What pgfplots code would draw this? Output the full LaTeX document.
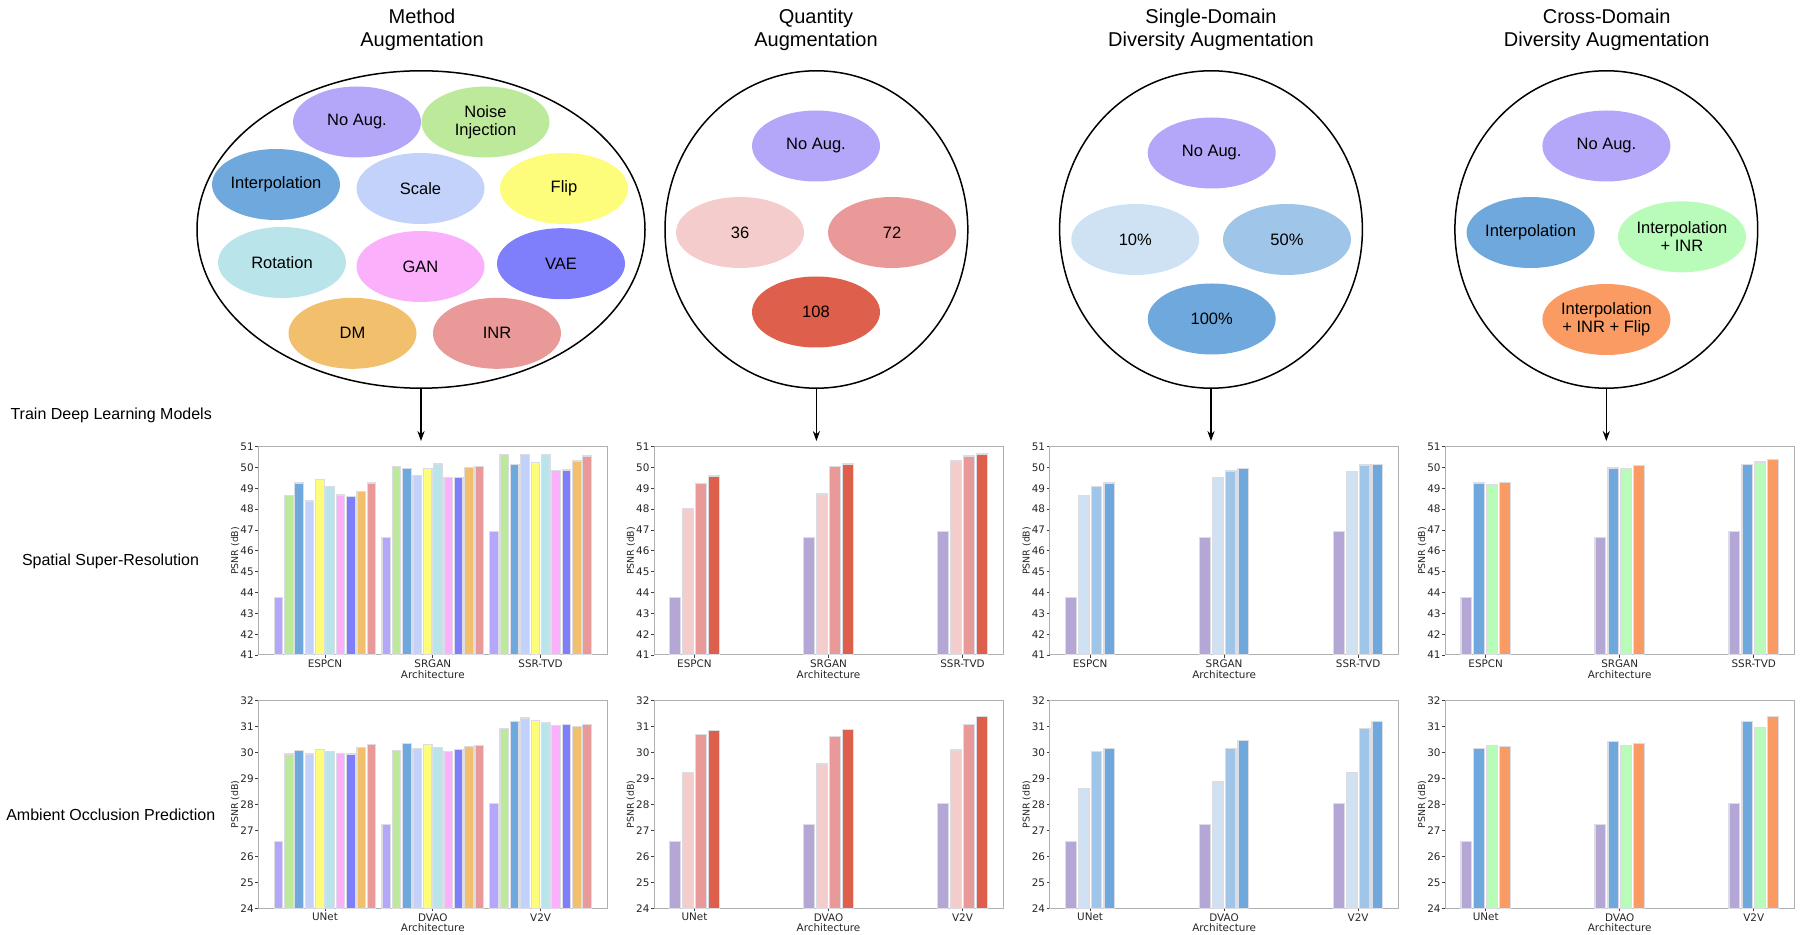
\documentclass[border=0pt]{standalone}
\usepackage{pgfplots}
\pgfplotsset{compat=1.18}
\usepackage{pgfplotstable}
\usepackage{fontspec}
\setmainfont{Liberation Sans}
\newfontfamily\dejavu{DejaVu Sans}
\usetikzlibrary{arrows.meta}

% augmentation colours
\definecolor{cNo}{HTML}{B4A7F9}
\definecolor{cNoB}{HTML}{B4A7D6}
\definecolor{cNoise}{HTML}{BDE99A}
\definecolor{cInterp}{HTML}{6FA8DC}
\definecolor{cScale}{HTML}{C2D2FA}
\definecolor{cFlip}{HTML}{FEFD7B}
\definecolor{cRot}{HTML}{B9E4E9}
\definecolor{cGAN}{HTML}{FBB0FB}
\definecolor{cVAE}{HTML}{807FFB}
\definecolor{cDM}{HTML}{F2BF6C}
\definecolor{cINR}{HTML}{EA9999}
\definecolor{cQ36}{HTML}{F4CCCC}
\definecolor{cQ72}{HTML}{EA9999}
\definecolor{cQ108}{HTML}{DE5F4B}
\definecolor{cS10}{HTML}{CFE2F3}
\definecolor{cS50}{HTML}{9FC5E8}
\definecolor{cS100}{HTML}{6FA8DC}
\definecolor{cIINR}{HTML}{B9FBB9}
\definecolor{cIIF}{HTML}{F99B63}
\definecolor{edge}{HTML}{DCDCE4}
\definecolor{frame}{HTML}{B0B0B0}

\pgfplotsset{
  psnr/.style={
    scale only axis, width=174.5pt,
    axis line style={draw=frame, line width=0.5pt},
    tick pos=left, tick align=outside, major tick length=1.5pt,
    tick style={draw=black!75, line width=0.4pt},
    xtick={0,1,2}, ytick distance=1,
    tick label style={font=\dejavu\fontsize{5.2}{6}\selectfont, text=black!85},
    /pgf/number format/assume math mode=true,
    yticklabel style={inner sep=0.6pt},
    xticklabel style={inner sep=0.8pt},
    xlabel={Architecture}, ylabel={PSNR (dB)},
    label style={font=\dejavu\fontsize{5.2}{6}\selectfont, text=black!85},
    ylabel style={at={(axis description cs:-0.066,0.5)}, anchor=center,
      font=\dejavu\fontsize{4.7}{5}\selectfont},
    xlabel style={at={(axis description cs:0.5,-0.094)}, anchor=center},
  },
  bars/.style={ybar, bar width=0.08, draw=edge, line width=0.6pt, fill=#1},
  rowA/.style={height=104.15pt, ymin=41, ymax=51, xticklabels={ESPCN,SRGAN,SSR-TVD}},
  rowB/.style={height=103.8pt, ymin=24, ymax=32, xticklabels={UNet,DVAO,V2V}},
  ten/.style={xmin=-0.619, xmax=2.619},
  four/.style={xmin=-0.302, xmax=2.302},
}

% method augmentation: a=no aug, b=noise, c=interp, d=scale, e=flip,
% f=rotation, g=GAN, h=VAE, i=DM, j=INR
\pgfplotstableread{
x a b c d e f g h i j
0 43.75 48.65 49.26 48.39 49.43 49.08 48.68 48.60 48.84 49.26
1 46.63 50.04 49.96 49.61 49.96 50.17 49.51 49.51 49.99 50.06
2 46.92 50.63 50.15 50.62 50.23 50.62 49.86 49.88 50.31 50.55
}\mSR
\pgfplotstableread{
x a b c d e f g h i j
0 26.57 29.95 30.09 29.95 30.13 30.04 29.98 29.95 30.21 30.32
1 27.22 30.08 30.35 30.16 30.30 30.20 30.04 30.12 30.23 30.27
2 28.04 30.93 31.20 31.33 31.23 31.14 31.04 31.09 31.01 31.09
}\mAO
% quantity: a=no aug, b=36, c=72, d=108
\pgfplotstableread{
x a b c d
0 43.75 48.04 49.24 49.59
1 46.63 48.73 50.04 50.17
2 46.92 50.31 50.55 50.65
}\qSR
\pgfplotstableread{
x a b c d
0 26.57 29.24 30.70 30.86
1 27.22 29.56 30.61 30.90
2 28.04 30.10 31.08 31.40
}\qAO
% single-domain: a=no aug, b=10%, c=50%, d=100%
\pgfplotstableread{
x a b c d
0 43.75 48.66 49.08 49.26
1 46.63 49.53 49.83 49.96
2 46.92 49.82 50.12 50.14
}\sSR
\pgfplotstableread{
x a b c d
0 26.57 28.60 30.04 30.16
1 27.22 28.87 30.15 30.46
2 28.04 29.24 30.93 31.19
}\sAO
% cross-domain: a=no aug, b=interp, c=interp+INR, d=interp+INR+flip
\pgfplotstableread{
x a b c d
0 43.75 49.26 49.18 49.27
1 46.63 49.98 49.96 50.10
2 46.92 50.15 50.27 50.38
}\cSR
\pgfplotstableread{
x a b c d
0 26.57 30.15 30.27 30.22
1 27.22 30.44 30.26 30.34
2 28.04 31.19 30.96 31.40
}\cAO

\begin{document}
\begin{tikzpicture}
\path[use as bounding box] (0,0) rectangle (900.5pt,-467.5pt);

\begin{scope}[x=0.5pt, y=-0.5pt]
  % column titles
  \begin{scope}[every node/.style={align=center, font=\fontsize{10}{11.7}\selectfont}]
    \node at (422,30) {Method\\Augmentation};
    \node at (816,30) {Quantity\\Augmentation};
    \node at (1211,30) {Single-Domain\\Diversity Augmentation};
    \node at (1606.7,30) {Cross-Domain\\Diversity Augmentation};
  \end{scope}
  % row labels
  \begin{scope}[every node/.style={font=\fontsize{8}{9}\selectfont}]
    \node at (111.2,415.8) {Train Deep Learning Models};
    \node at (110.5,561.5) {Spatial Super-Resolution};
    \node at (110.8,815) {Ambient Occlusion Prediction};
  \end{scope}
  % outer ellipses and arrows
  \draw[line width=0.75pt] (421,229.5) ellipse [x radius=112pt, y radius=79.35pt];
  \draw[line width=0.75pt] (816.4,229.5) ellipse [x radius=75.7pt, y radius=79.35pt];
  \draw[line width=0.75pt] (1211,229.5) ellipse [x radius=75.7pt, y radius=79.35pt];
  \draw[line width=0.75pt] (1606.3,229.5) ellipse [x radius=75.7pt, y radius=79.35pt];
  \foreach \cx in {421,816.4,1211,1606.3}
    \draw[line width=0.55pt, -{Stealth[length=5pt,width=3.6pt]}] (\cx,388) -- (\cx,441);
  % inner ellipses
  \begin{scope}[every node/.style={align=center, font=\fontsize{8.25}{9}\selectfont}]
    \def\bub#1#2#3#4{\fill[#3] (#1,#2) ellipse [x radius=32pt, y radius=17.75pt];
      \node at (#1,#2) {#4};}
    \bub{357}{122}{cNo}{No Aug.}
    \bub{485.5}{122}{cNoise}{Noise\\Injection}
    \bub{276}{184.5}{cInterp}{Interpolation}
    \bub{420.5}{188.5}{cScale}{Scale}
    \bub{564}{188.5}{cFlip}{Flip}
    \bub{282}{262.5}{cRot}{Rotation}
    \bub{420.5}{266.5}{cGAN}{GAN}
    \bub{561}{263.7}{cVAE}{VAE}
    \bub{352.5}{333.3}{cDM}{DM}
    \bub{497}{333.3}{cINR}{INR}
    \bub{816}{146}{cNo}{No Aug.}
    \bub{740}{232.5}{cQ36}{36}
    \bub{892}{232.5}{cQ72}{72}
    \bub{816}{312}{cQ108}{108}
    \bub{1211.7}{153}{cNo}{No Aug.}
    \bub{1135.3}{239.5}{cS10}{10\%}
    \bub{1287}{239.5}{cS50}{50\%}
    \bub{1211.7}{319}{cS100}{100\%}
    \bub{1606.4}{146}{cNo}{No Aug.}
    \bub{1530.6}{232.5}{cInterp}{Interpolation}
    \bub{1682}{236.8}{cIINR}{Interpolation\\+ INR}
    \bub{1606.4}{319.5}{cIIF}{Interpolation\\+ INR + Flip}
  \end{scope}
\end{scope}

% ---- method augmentation ----
\begin{axis}[psnr, rowA, ten, at={(129.15pt,-327.5pt)}, anchor=south west]
\addplot[bars=cNo, bar shift=-0.432] table[x=x,y=a]{\mSR};
\addplot[bars=cNoise, bar shift=-0.336] table[x=x,y=b]{\mSR};
\addplot[bars=cInterp, bar shift=-0.240] table[x=x,y=c]{\mSR};
\addplot[bars=cScale, bar shift=-0.144] table[x=x,y=d]{\mSR};
\addplot[bars=cFlip, bar shift=-0.048] table[x=x,y=e]{\mSR};
\addplot[bars=cRot, bar shift=0.048] table[x=x,y=f]{\mSR};
\addplot[bars=cGAN, bar shift=0.144] table[x=x,y=g]{\mSR};
\addplot[bars=cVAE, bar shift=0.240] table[x=x,y=h]{\mSR};
\addplot[bars=cDM, bar shift=0.336] table[x=x,y=i]{\mSR};
\addplot[bars=cINR, bar shift=0.432] table[x=x,y=j]{\mSR};
\end{axis}
\begin{axis}[psnr, rowB, ten, at={(129.15pt,-454.15pt)}, anchor=south west]
\addplot[bars=cNo, bar shift=-0.432] table[x=x,y=a]{\mAO};
\addplot[bars=cNoise, bar shift=-0.336] table[x=x,y=b]{\mAO};
\addplot[bars=cInterp, bar shift=-0.240] table[x=x,y=c]{\mAO};
\addplot[bars=cScale, bar shift=-0.144] table[x=x,y=d]{\mAO};
\addplot[bars=cFlip, bar shift=-0.048] table[x=x,y=e]{\mAO};
\addplot[bars=cRot, bar shift=0.048] table[x=x,y=f]{\mAO};
\addplot[bars=cGAN, bar shift=0.144] table[x=x,y=g]{\mAO};
\addplot[bars=cVAE, bar shift=0.240] table[x=x,y=h]{\mAO};
\addplot[bars=cDM, bar shift=0.336] table[x=x,y=i]{\mAO};
\addplot[bars=cINR, bar shift=0.432] table[x=x,y=j]{\mAO};
\end{axis}

% ---- quantity augmentation ----
\begin{axis}[psnr, rowA, four, at={(327pt,-327.5pt)}, anchor=south west]
\addplot[bars=cNoB, bar shift=-0.144] table[x=x,y=a]{\qSR};
\addplot[bars=cQ36, bar shift=-0.048] table[x=x,y=b]{\qSR};
\addplot[bars=cQ72, bar shift=0.048] table[x=x,y=c]{\qSR};
\addplot[bars=cQ108, bar shift=0.144] table[x=x,y=d]{\qSR};
\end{axis}
\begin{axis}[psnr, rowB, four, at={(327pt,-454.15pt)}, anchor=south west]
\addplot[bars=cNoB, bar shift=-0.144] table[x=x,y=a]{\qAO};
\addplot[bars=cQ36, bar shift=-0.048] table[x=x,y=b]{\qAO};
\addplot[bars=cQ72, bar shift=0.048] table[x=x,y=c]{\qAO};
\addplot[bars=cQ108, bar shift=0.144] table[x=x,y=d]{\qAO};
\end{axis}

% ---- single-domain diversity ----
\begin{axis}[psnr, rowA, four, at={(524.8pt,-327.5pt)}, anchor=south west]
\addplot[bars=cNoB, bar shift=-0.144] table[x=x,y=a]{\sSR};
\addplot[bars=cS10, bar shift=-0.048] table[x=x,y=b]{\sSR};
\addplot[bars=cS50, bar shift=0.048] table[x=x,y=c]{\sSR};
\addplot[bars=cS100, bar shift=0.144] table[x=x,y=d]{\sSR};
\end{axis}
\begin{axis}[psnr, rowB, four, at={(524.8pt,-454.15pt)}, anchor=south west]
\addplot[bars=cNoB, bar shift=-0.144] table[x=x,y=a]{\sAO};
\addplot[bars=cS10, bar shift=-0.048] table[x=x,y=b]{\sAO};
\addplot[bars=cS50, bar shift=0.048] table[x=x,y=c]{\sAO};
\addplot[bars=cS100, bar shift=0.144] table[x=x,y=d]{\sAO};
\end{axis}

% ---- cross-domain diversity ----
\begin{axis}[psnr, rowA, four, at={(722.6pt,-327.5pt)}, anchor=south west]
\addplot[bars=cNoB, bar shift=-0.144] table[x=x,y=a]{\cSR};
\addplot[bars=cInterp, bar shift=-0.048] table[x=x,y=b]{\cSR};
\addplot[bars=cIINR, bar shift=0.048] table[x=x,y=c]{\cSR};
\addplot[bars=cIIF, bar shift=0.144] table[x=x,y=d]{\cSR};
\end{axis}
\begin{axis}[psnr, rowB, four, at={(722.6pt,-454.15pt)}, anchor=south west]
\addplot[bars=cNoB, bar shift=-0.144] table[x=x,y=a]{\cAO};
\addplot[bars=cInterp, bar shift=-0.048] table[x=x,y=b]{\cAO};
\addplot[bars=cIINR, bar shift=0.048] table[x=x,y=c]{\cAO};
\addplot[bars=cIIF, bar shift=0.144] table[x=x,y=d]{\cAO};
\end{axis}
\end{tikzpicture}
\end{document}
